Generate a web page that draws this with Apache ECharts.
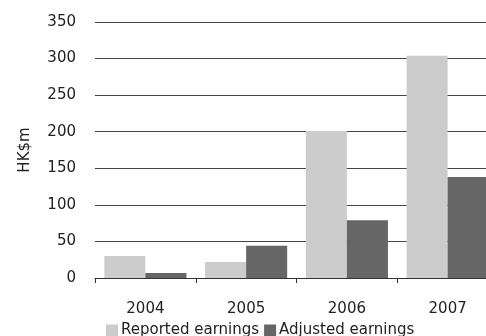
<!DOCTYPE html>
<html><head><meta charset="utf-8">
<script src="https://cdn.jsdelivr.net/npm/echarts@6/dist/echarts.min.js"></script>
<style>html,body{margin:0;padding:0;background:#fff}#c{width:486px;height:336px}</style>
</head><body><div id="c"></div>
<script>
const categories = ['2004','2005','2006','2007'];
const reported = [30, 22, 201, 304];
const adjusted = [7, 44, 79, 138];
const yTicks = [0, 50, 100, 150, 200, 250, 300, 350];

const chart = echarts.init(document.getElementById('c'), null, {renderer:'canvas'});
const font = 'DejaVu Sans';
chart.setOption({
  animation:false,
  textStyle:{fontFamily:font},
  grid:{left:95, top:22, bottom:58, width:403, outerBoundsMode:'none', containLabel:false},
  legend:{
    data:['Reported earnings','Adjusted earnings'],
    left:106, bottom:-2, padding:0, itemWidth:12, itemHeight:12, itemGap:5,
    icon:'rect',
    textStyle:{fontFamily:font, fontSize:15, color:'#222', padding:[0,0,0,-2]}
  },
  xAxis:{
    type:'category', data:categories,
    axisLine:{lineStyle:{color:'#333', width:1}},
    axisTick:{show:true, length:5, lineStyle:{color:'#333'}},
    axisLabel:{fontFamily:font, fontSize:15, color:'#222', margin:24}
  },
  yAxis:{
    type:'value', min:yTicks[0], max:yTicks[yTicks.length-1], interval:50,
    name:'HK$m', nameLocation:'middle', nameGap:62, nameRotate:90,
    nameTextStyle:{fontFamily:font, fontSize:15, color:'#222'},
    axisLine:{show:false}, axisTick:{show:false},
    axisLabel:{fontFamily:font, fontSize:15, color:'#222', margin:19},
    splitLine:{lineStyle:{color:'#444', width:1}}
  },
  series:[
    {name:'Reported earnings', type:'bar', data:reported, itemStyle:{color:'#cccccc'}, barGap:'0%', barCategoryGap:'18.5%'},
    {name:'Adjusted earnings', type:'bar', data:adjusted, itemStyle:{color:'#666666'}, barGap:'0%', barCategoryGap:'18.5%'}
  ]
});
</script></body></html>
